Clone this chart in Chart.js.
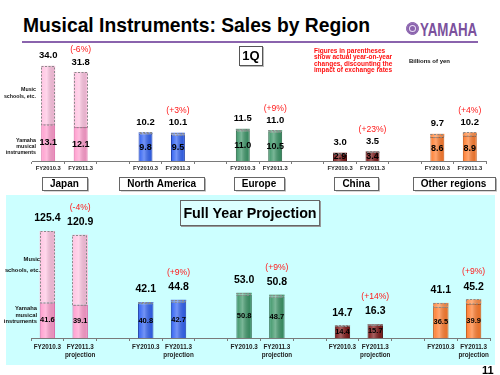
<!DOCTYPE html>
<html>
<head>
<meta charset="utf-8">
<script src="https://cdn.jsdelivr.net/npm/chart.js@4.4.1/dist/chart.umd.min.js"></script>
<style>
  body { margin: 0; width: 500px; height: 375px; position: relative; overflow: hidden; background: #fff;
         font-family: "Liberation Sans", Arial, sans-serif; }
  .abs { position: absolute; white-space: nowrap; line-height: 1; }
  #title { left: 23px; top: 15.7px; font-size: 19.3px; font-weight: bold; color: #000; }
  #rule { left: 22px; top: 40.5px; width: 456px; height: 2px; background: #8a63ad; }
  #emblem { left: 406px; top: 22px; width: 11px; height: 11px; border-radius: 50%; background: #8a63ad;
            border: 1px solid #8a63ad; box-shadow: inset 0 0 0 2px #8a63ad, inset 0 0 0 3px #e9def3; }
  #logo { left: 420px; top: 20.8px; font-size: 18px; font-weight: bold; color: #7b519d;
          transform: scaleX(0.74); transform-origin: left top; }
  #q1Box { left: 239px; top: 46px; width: 22px; height: 18px; border: 1px solid #555; background: #fff;
           font-size: 13px; font-weight: bold; text-align: center; line-height: 18px; box-shadow: 1px 1px 0 #bbb; }
  #note { left: 314px; top: 48px; font-size: 6.5px; line-height: 6.3px; font-weight: bold; color: #ff1010; }
  #unit { left: 409px; top: 58px; font-size: 6px; font-weight: bold; color: #111; }
  .side { text-align: right; font-weight: bold; color: #111; }
  #panel { left: 6px; top: 195px; width: 489px; height: 170px; background: #ccffff; }
  #fyBox { left: 180px; top: 200px; width: 138px; height: 24px; border: 1px solid #666; background: #dcffff;
           font-size: 14.3px; font-weight: bold; text-align: center; line-height: 24px; box-shadow: 1px 1px 0 #999; }
  #page { left: 482px; top: 364.7px; font-size: 11px; font-weight: bold; color: #000; }
  canvas { position: absolute; left: 0; }
</style>
</head>
<body>
<div id="panel" class="abs"></div>
<canvas id="q1Chart" width="500" height="150" style="top:45px"></canvas>
<canvas id="fyChart" width="500" height="172" style="top:195px"></canvas>

<div id="title" class="abs">Musical Instruments: Sales by Region</div>
<div id="rule" class="abs"></div>
<div id="emblem" class="abs"></div>
<div id="logo" class="abs">YAMAHA</div>
<div id="q1Box" class="abs">1Q</div>
<div id="note" class="abs">Figures in parentheses<br>show actual year-on-year<br>changes, discounting the<br>impact of exchange rates</div>
<div id="unit" class="abs">Billions of yen</div>
<div class="abs side" style="left:0;width:36px;top:86px;font-size:5.3px;line-height:6.5px">Music<br>schools, etc.</div>
<div class="abs side" style="left:0;width:36px;top:137px;font-size:5.3px;line-height:6px">Yamaha<br>musical<br>instruments</div>
<div class="abs side" style="left:0;width:40px;top:254px;font-size:5.8px;line-height:10.5px">Music<br>schools, etc.</div>
<div class="abs side" style="left:0;width:37px;top:305px;font-size:5.8px;line-height:6.5px">Yamaha<br>musical<br>instruments</div>
<div id="fyBox" class="abs">Full Year Projection</div>
<div id="page" class="abs">11</div>

<script>
// ============================================
// Musical Instruments: Sales by Region (billions of yen)
// ============================================

const regions = ['Japan', 'North America', 'Europe', 'China', 'Other regions'];
const q1Periods = ['FY2010.3', 'FY2011.3'];
const fyPeriods = ['FY2010.3', ['FY2011.3', 'projection']];

// 1Q — totals and the Yamaha musical instruments part
const q1Total2010 = [34.0, 10.2, 11.5, 3.0, 9.7];
const q1Instr2010 = [13.1, 9.8, 11.0, 2.9, 8.6];
const q1Total2011 = [31.8, 10.1, 11.0, 3.5, 10.2];
const q1Instr2011 = [12.1, 9.5, 10.5, 3.4, 8.9];
const q1Change = ['(-6%)', '(+3%)', '(+9%)', '(+23%)', '(+4%)'];

// Full year projection
const fyTotal2010 = [125.4, 42.1, 53.0, 14.7, 41.1];
const fyInstr2010 = [41.6, 40.8, 50.8, 14.4, 36.5];
const fyTotal2011 = [120.9, 44.8, 50.8, 16.3, 45.2];
const fyInstr2011 = [39.1, 42.7, 48.7, 15.7, 39.9];
const fyChange = ['(-4%)', '(+9%)', '(+9%)', '(+14%)', '(+9%)'];

const regionColors = ['#ff9ccd', '#3162f2', '#3a9466', '#7d1616', '#ff7b2c'];
const regionBorders = ['#d9609f', '#1c3ca8', '#21603f', '#450808', '#c2500c'];
const schoolColors = ['#ffc4e2', '#4a76f5', '#4ea377', '#8f2a2a', '#ff8c45'];

const FONT = 'Liberation Sans, Arial, sans-serif';

// two bars per region, one empty slot between regions
function toSlots(a, b, gap = null) {
  const out = [];
  a.forEach((v, i) => {
    out.push(a[i], b[i]);
    if (i < a.length - 1) out.push(gap);
  });
  return out;
}

function minus(total, part) {
  return total.map((v, i) => +(v - part[i]).toFixed(1));
}

function decorPlugin(o) {
  return {
    id: 'decor',
    afterDatasetsDraw(chart) {
      const ctx = chart.ctx;
      const low = chart.getDatasetMeta(0).data;
      const high = chart.getDatasetMeta(1).data;
      ctx.save();
      o.totals.forEach((t, k) => {
        if (t == null) return;
        // cylinder shine
        [low[k], high[k]].forEach(el => {
          const x0 = el.x - el.width / 2;
          const g = ctx.createLinearGradient(x0, 0, x0 + el.width, 0);
          g.addColorStop(0, 'rgba(255,255,255,0)');
          g.addColorStop(0.4, 'rgba(255,255,255,0.32)');
          g.addColorStop(1, 'rgba(0,0,0,0.06)');
          ctx.fillStyle = g;
          ctx.fillRect(x0 + 1, el.y, el.width - 2, el.base - el.y);
        });
        // dashed outline on the music school part
        const h = high[k];
        ctx.setLineDash([2, 1.5]);
        ctx.strokeStyle = '#8a8a8a';
        ctx.lineWidth = 1;
        ctx.strokeRect(Math.round(h.x - h.width / 2) + 0.5, Math.round(h.y) + 0.5,
                       Math.round(h.width) - 1, Math.max(1, h.base - h.y));
        ctx.setLineDash([]);
      });

      ctx.textAlign = 'center';
      ctx.textBaseline = 'middle';
      o.totals.forEach((t, k) => {
        if (t == null) return;
        const l = low[k], h = high[k];
        ctx.fillStyle = '#000';
        ctx.font = o.totalFont;
        ctx.fillText(t.toFixed(1), h.x, h.y - o.totalGap);
        ctx.font = o.innerFont;
        ctx.fillText(o.instr[k].toFixed(1), l.x, (l.y + l.base) / 2);
        if (k % 3 === 1) {
          ctx.fillStyle = '#ff1a1a';
          ctx.font = o.pctFont;
          ctx.fillText(o.change[(k - 1) / 3], h.x, h.y - o.totalGap - o.pctGap);
        }
      });
      ctx.restore();
    }
  };
}

const regionBoxes = {
  id: 'regionBoxes',
  afterDraw(chart) {
    const ctx = chart.ctx;
    const xs = chart.scales.x;
    const y = chart.chartArea.bottom + 22.5;
    ctx.save();
    ctx.font = 'bold 10px ' + FONT;
    ctx.textAlign = 'center';
    ctx.textBaseline = 'middle';
    regions.forEach((name, i) => {
      const x = (xs.getPixelForValue(3 * i) + xs.getPixelForValue(3 * i + 1)) / 2;
      const w = Math.round(ctx.measureText(name).width + 16);
      const left = Math.round(x - w / 2) + 0.5;
      ctx.fillStyle = '#b0b0b0';
      ctx.fillRect(left + 1.5, y - 6.5 + 1.5, w, 13);
      ctx.fillStyle = '#fff';
      ctx.fillRect(left, y - 6.5, w, 13);
      ctx.strokeStyle = '#666';
      ctx.lineWidth = 1;
      ctx.strokeRect(left, Math.round(y - 6.5) + 0.5, w, 13);
      ctx.fillStyle = '#000';
      ctx.fillText(name, x, y + 0.5);
    });
    ctx.restore();
  }
};

function makeChart(id, cfg) {
  const labels = toSlots(regions.map(() => cfg.periods[0]), regions.map(() => cfg.periods[1]), '');
  const instr = toSlots(cfg.instr2010, cfg.instr2011);
  const schools = toSlots(minus(cfg.total2010, cfg.instr2010), minus(cfg.total2011, cfg.instr2011));
  const totals = toSlots(cfg.total2010, cfg.total2011);
  const fill = toSlots(regionColors, regionColors, 'transparent');
  const border = toSlots(regionBorders, regionBorders, 'transparent');
  const topFill = toSlots(schoolColors, schoolColors, 'transparent');

  return new Chart(document.getElementById(id), {
    type: 'bar',
    data: {
      labels,
      datasets: [
        { label: 'Yamaha musical instruments', data: instr, backgroundColor: fill, borderColor: border,
          borderWidth: 1, stack: 's', barPercentage: cfg.barPct, categoryPercentage: 1 },
        { label: 'Music schools, etc.', data: schools, backgroundColor: topFill, borderWidth: 0,
          stack: 's', barPercentage: cfg.barPct, categoryPercentage: 1 }
      ]
    },
    options: {
      responsive: false,
      animation: false,
      layout: { padding: cfg.padding },
      plugins: { legend: { display: false }, tooltip: { enabled: false } },
      scales: {
        x: {
          stacked: true,
          grid: { drawOnChartArea: false, tickLength: 3, color: '#7a7a7a', offset: true },
          border: { color: '#7a7a7a' },
          ticks: { autoSkip: false, maxRotation: 0, padding: cfg.tickPad, color: '#222',
                   font: { family: FONT, size: cfg.tickSize, weight: 'bold', lineHeight: 1.25 } },
          afterFit: s => { s.height = cfg.axisHeight; }
        },
        y: { stacked: true, display: false, min: 0, max: cfg.yMax }
      }
    },
    plugins: [decorPlugin({
      totals, instr,
      change: cfg.change,
      totalFont: cfg.totalFont, innerFont: cfg.innerFont, pctFont: cfg.pctFont,
      totalGap: cfg.totalGap, pctGap: cfg.pctGap
    })].concat(cfg.extra || [])
  });
}

makeChart('q1Chart', {
  periods: q1Periods,
  total2010: q1Total2010, instr2010: q1Instr2010,
  total2011: q1Total2011, instr2011: q1Instr2011,
  change: q1Change,
  yMax: 40,
  barPct: 0.43,
  padding: { left: 32, right: 14, top: 4, bottom: 20 },
  axisHeight: 14, tickPad: 1, tickSize: 5.8,
  totalFont: 'bold 9.5px ' + FONT, innerFont: 'bold 9px ' + FONT, pctFont: '8.6px ' + FONT,
  totalGap: 10, pctGap: 12,
  extra: [regionBoxes]
});

makeChart('fyChart', {
  periods: fyPeriods,
  total2010: fyTotal2010, instr2010: fyInstr2010,
  total2011: fyTotal2011, instr2011: fyInstr2011,
  change: fyChange,
  yMax: 150,
  barPct: 0.47,
  padding: { left: 31, right: 10, top: 15, bottom: 7 },
  axisHeight: 22, tickPad: 2, tickSize: 6.3,
  totalFont: 'bold 10.5px ' + FONT, innerFont: 'bold 7.5px ' + FONT, pctFont: '8.6px ' + FONT,
  totalGap: 12.5, pctGap: 15
});
</script>
</body>
</html>
